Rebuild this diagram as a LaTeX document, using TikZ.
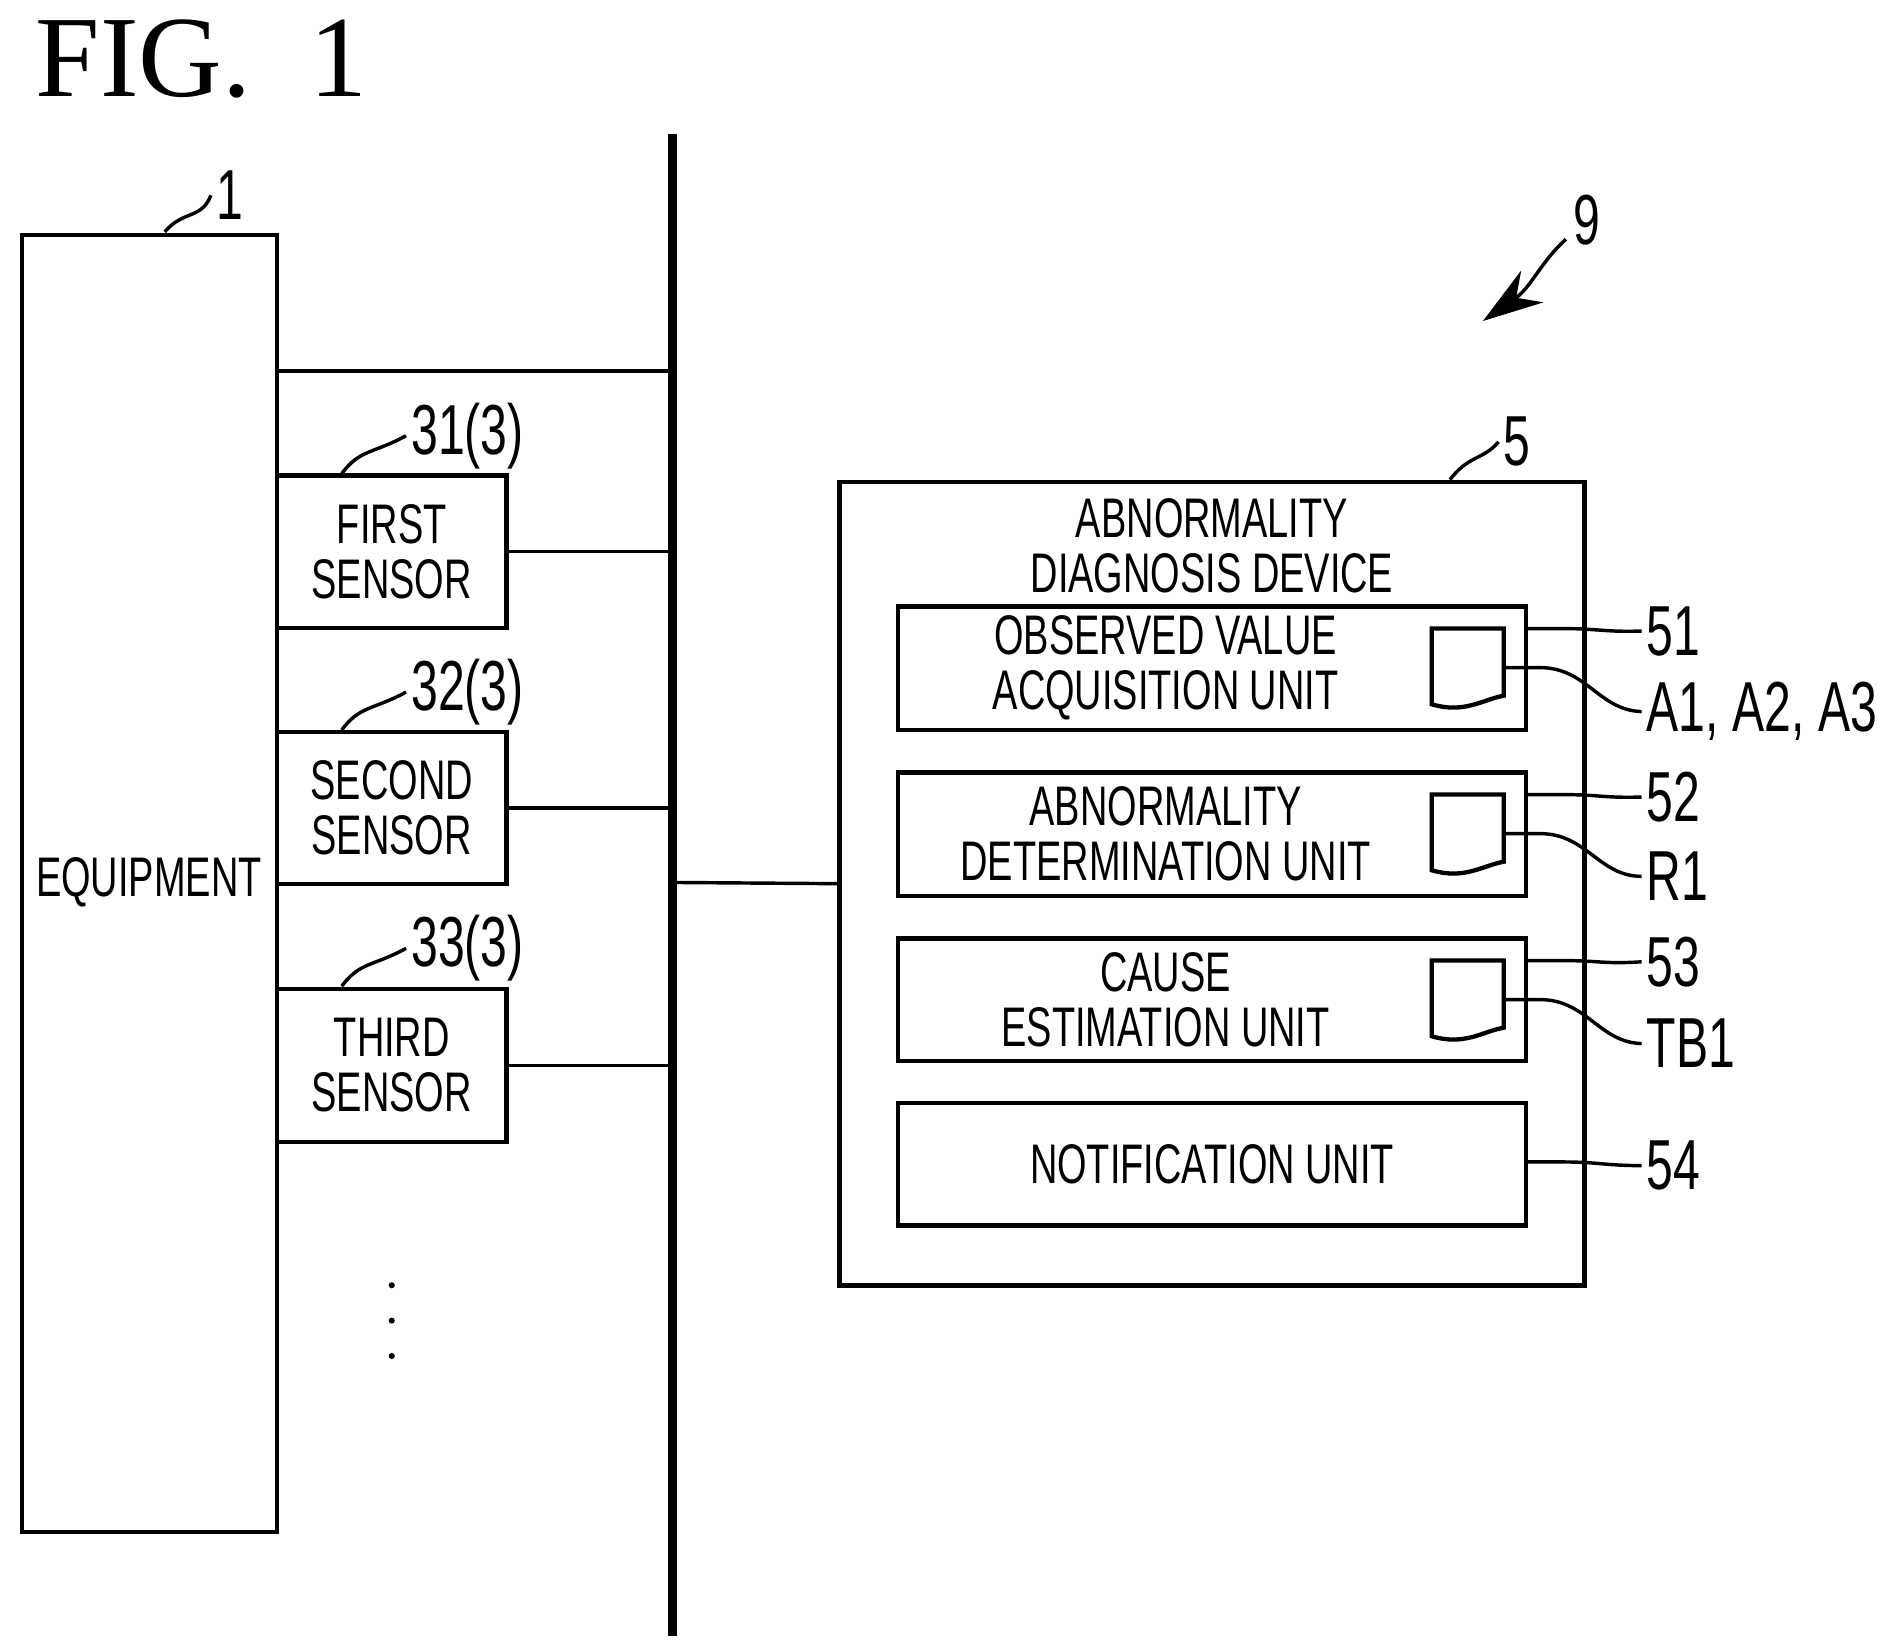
\documentclass[tikz,border=0pt]{standalone}
\usepackage{fontspec}
\usetikzlibrary{arrows.meta}
\setmainfont{Liberation Sans}[FakeStretch=0.68]
\newfontfamily\figfont{Liberation Serif}
\begin{document}
\begin{tikzpicture}[x=0.01cm,y=-0.01cm,
    box/.style={draw, line width=1pt, inner sep=0pt},
    txt/.style={font=\fontsize{13}{12.8}\selectfont, align=center},
    num/.style={font=\fontsize{16.5}{18}\selectfont, inner sep=1pt},
    lead/.style={line width=0.8pt}]
    \useasboundingbox (0,0) rectangle (1560,1350);
    \node[font=\figfont\fontsize{27}{30}\selectfont] (fig) at (165,48) {FIG.\ \ 1};
    % equipment and sensors
    \node[box, minimum width=2.09cm, minimum height=10.62cm] (eq) at (122.5,724) {};
    \node[txt] (eqt) at (122,723) {EQUIPMENT};
    \node[box, minimum width=1.88cm, minimum height=1.25cm] (s1) at (321,452) {};
    \node[box, minimum width=1.88cm, minimum height=1.25cm] (s2) at (321,662) {};
    \node[box, minimum width=1.88cm, minimum height=1.25cm] (s3) at (321,873) {};
    \node[txt] at (s1) {FIRST\\SENSOR};
    \node[txt] at (s2) {SECOND\\SENSOR};
    \node[txt] at (s3) {THIRD\\SENSOR};
    \node[num] (n1) at (188,160) {1};
    \node[num] (n31) at (383,357) {31(3)};
    \node[num] (n32) at (383,567) {32(3)};
    \node[num] (n33) at (383,777) {33(3)};
    \foreach \y in {1053,1082,1111} \fill (321,\y) circle (2.5);
    % bus
    \coordinate (bt) at (551,110);
    \coordinate (bb) at (551,1340);
    \draw[line width=2.2pt] (bt) -- (bb);
    \draw[lead] (227,304) -- (551,304);
    \draw[lead] (s1.east) -- (551,452);
    \draw[lead] (s2.east) -- (551,662);
    \draw[lead] (s3.east) -- (551,873);
    % device
    \node[box, minimum width=6.10cm, minimum height=6.58cm] (dev) at (993,724) {};
    \draw[lead] (551,723) -- (dev.west);
    \node[txt] (devt) at (993,447) {ABNORMALITY\\DIAGNOSIS DEVICE};
    \node[num] (n5) at (1243,362) {5};
    \node[box, minimum width=5.14cm, minimum height=1.01cm] (u1) at (993,547.5) {};
    \node[box, minimum width=5.14cm, minimum height=1.01cm] (u2) at (993,683.5) {};
    \node[box, minimum width=5.14cm, minimum height=1.00cm] (u3) at (993,819) {};
    \node[box, minimum width=5.14cm, minimum height=1.00cm] (u4) at (993,954) {};
    \node[txt] at (955,547) {OBSERVED VALUE\\ACQUISITION UNIT};
    \node[txt] at (955,683) {ABNORMALITY\\DETERMINATION UNIT};
    \node[txt] at (955,819) {CAUSE\\ESTIMATION UNIT};
    \node[txt] at (993,954) {NOTIFICATION UNIT};
    \foreach \u/\y in {1/515,2/651,3/787}
      \draw[line width=1pt] (1173,\y) -- (1232,\y) -- (1232,\y+55)
        .. controls (1215,\y+58) and (1200,\y+70) .. (1173,\y+62) -- cycle;
    \node[num, anchor=west] (n51) at (1345,517) {51};
    \node[num, anchor=west] (na) at (1345,583) {A1, A2, A3};
    \node[num, anchor=west] (n52) at (1345,653) {52};
    \node[num, anchor=west] (nr) at (1345,718) {R1};
    \node[num, anchor=west] (n53) at (1345,788) {53};
    \node[num, anchor=west] (ntb) at (1345,855) {TB1};
    \node[num, anchor=west] (n54) at (1345,955) {54};
    \node[num] (n9) at (1300,180) {9};
    % leaders
    \draw[lead] (135,190) .. controls (150,172) and (165,180) .. (n1.west);
    \draw[lead] (280,388) .. controls (295,368) and (305,372) .. (n31.west);
    \draw[lead] (280,598) .. controls (295,578) and (305,582) .. (n32.west);
    \draw[lead] (280,808) .. controls (295,788) and (305,792) .. (n33.west);
    \draw[lead] (1188,393) .. controls (1203,373) and (1215,377) .. (n5.west);
    \foreach \y/\n in {515/n51, 651/n52, 787/n53, 952/n54}
      \draw[lead] (1250,\y) -- (1280,\y) .. controls (1310,\y) and (1315,\y+3) .. (\n.west);
    \foreach \y/\n in {547/na, 683/nr, 819/ntb}
      \draw[lead] (1232,\y) -- (1262,\y) .. controls (1300,\y) and (1310,\y+35) .. (\n.west);
    \draw[lead, -{Stealth[length=14pt,width=9pt]}] (1283,196) .. controls (1262,215) and (1255,235) .. (1215,263);
\end{tikzpicture}
\end{document}
